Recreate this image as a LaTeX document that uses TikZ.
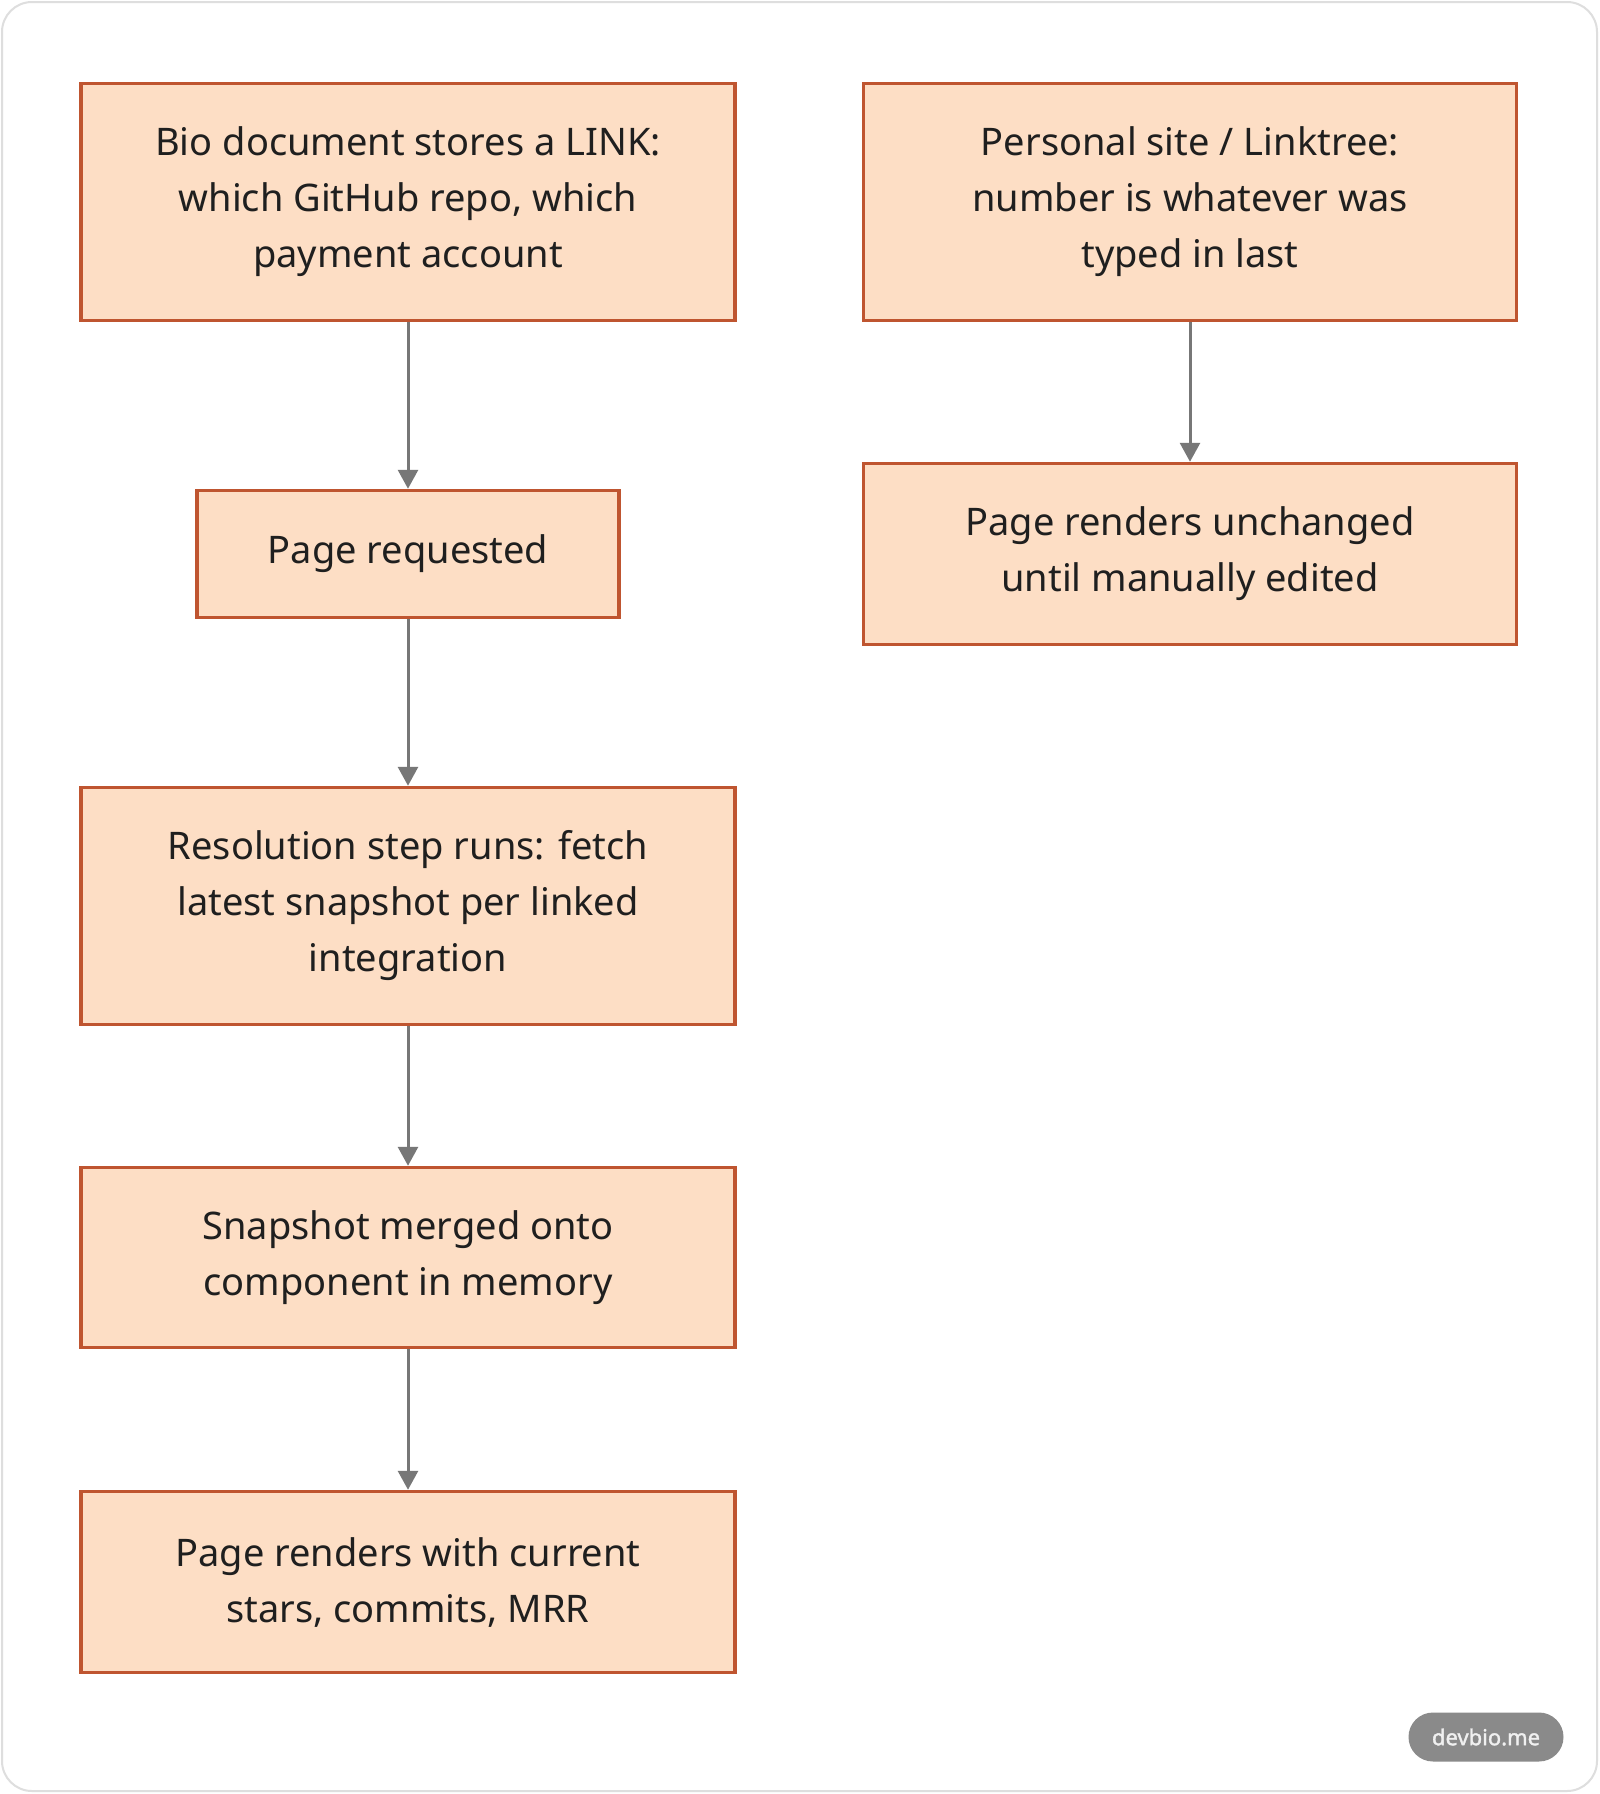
\documentclass[tikz,border=0pt]{standalone}
\usepackage{fontspec}
\setmainfont{Noto Sans}
\newfontfamily\badgefont{Noto Sans}[FakeBold=1.6]
\usetikzlibrary{arrows.meta}
\definecolor{boxfill}{HTML}{FDDEC5}
\definecolor{boxline}{HTML}{BF5530}
\definecolor{arrowgray}{HTML}{777777}
\definecolor{framegray}{HTML}{DEDEDE}
\definecolor{badgegray}{HTML}{8A8A8A}

\begin{document}
\begin{tikzpicture}[x=1pt, y=-1pt,
    flowbox/.style={draw=boxline, fill=boxfill, line width=3.5pt, align=center, inner sep=0pt,
      text=black!88, font=\fontsize{38}{56}\selectfont},
    flowarrow/.style={draw=arrowgray, line width=3pt, -{Triangle[length=19pt, width=20pt]}}]
        % Page and frame
        \useasboundingbox (0,0) rectangle (1600,1794);
        \fill[white] (0,0) rectangle (1600,1794);
        \draw[framegray, line width=2pt, rounded corners=30pt] (2,2) rectangle (1597,1791);

        % Left column: linked data
        \node[flowbox, minimum width=654pt, minimum height=237pt] (bio) at (408,202)
            {Bio document stores a LINK:\\ which GitHub repo, which\\ payment account};
        \node[flowbox, minimum width=422pt, minimum height=127pt] (requested) at (408,554)
            {Page requested};
        \node[flowbox, minimum width=654pt, minimum height=237pt] (resolve) at (408,906)
            {Resolution step runs: fetch\\ latest snapshot per linked\\ integration};
        \node[flowbox, minimum width=654pt, minimum height=180pt] (merged) at (408,1257.5)
            {Snapshot merged onto\\ component in memory};
        \node[flowbox, minimum width=654pt, minimum height=181pt] (current) at (408,1582)
            {Page renders with current\\ stars, commits, MRR};

        % Right column: typed-in data
        \node[flowbox, minimum width=653pt, minimum height=237pt] (personal) at (1190,202)
            {Personal site / Linktree:\\ number is whatever was\\ typed in last};
        \node[flowbox, minimum width=653pt, minimum height=181pt] (unchanged) at (1190,554)
            {Page renders unchanged\\ until manually edited};

        % Arrows
        \draw[flowarrow] (bio) -- (requested);
        \draw[flowarrow] (requested) -- (resolve);
        \draw[flowarrow] (resolve) -- (merged);
        \draw[flowarrow] (merged) -- (current);
        \draw[flowarrow] (personal) -- (unchanged);

        % Badge
        \node[fill=badgegray, rounded corners=24.5pt, minimum width=155pt, minimum height=49pt,
            inner sep=0pt, text=white!94!black, font=\badgefont\fontsize{22}{22}\selectfont]
            (badge) at (1486,1737) {devbio.me};
\end{tikzpicture}
\end{document}
